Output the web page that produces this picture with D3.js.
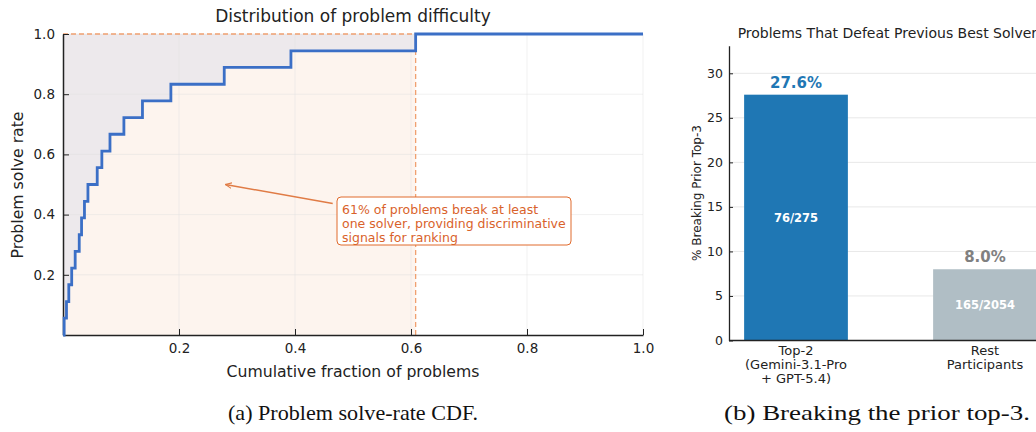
<!DOCTYPE html>
<html>
<head>
<meta charset="utf-8">
<script src="https://cdn.jsdelivr.net/npm/d3@7"></script>
<style>
  body { margin: 0; background: #fff; }
  svg { display: block; font-family: "DejaVu Sans", sans-serif; }
</style>
</head>
<body>
<svg id="chart"></svg>
<script>
// left panel: sorted solve rates (step curve)
var cumFraction = [0, 0.002, 0.006, 0.010, 0.015, 0.021, 0.028, 0.032, 0.037, 0.043,
  0.059, 0.067, 0.081, 0.105, 0.137, 0.186, 0.278, 0.393, 0.608, 1.0];
var solveRate = [0, 0.056, 0.111, 0.167, 0.222, 0.278, 0.333, 0.389, 0.444, 0.5,
  0.556, 0.611, 0.667, 0.722, 0.778, 0.833, 0.889, 0.944, 1.0, 1.0];
var breakFraction = 0.608;
var cdfTicks = [0.2, 0.4, 0.6, 0.8, 1.0];
var noteLines = ['61% of problems break at least', 'one solver, providing discriminative', 'signals for ranking'];

// right panel: bars
var groups = ['Top-2', 'Rest'];
var groupLabels = [['Top-2', '(Gemini-3.1-Pro', '+ GPT-5.4)'], ['Rest', 'Participants']];
var breakPct = [27.6, 8.0];
var breakCounts = ['76/275', '165/2054'];
var barColors = ['#1f77b4', '#b0bec5'];
var pctColors = ['#1f77b4', '#808080'];
var pctTicks = [0, 5, 10, 15, 20, 25, 30];

function drawChart() {
  var svg = d3.select('#chart')
    .attr('width', 1036)
    .attr('height', 432);

  // ---------- panel (a) ----------
  var x = d3.scaleLinear().domain([0, 1]).range([63, 643]);
  var y = d3.scaleLinear().domain([0, 1]).range([335, 34]);
  var pts = cumFraction.map((d, i) => [d, solveRate[i]]);
  var a = svg.append('g');

  // shaded band up to the break point
  a.append('rect')
    .attr('x', x(0)).attr('y', y(1))
    .attr('width', x(breakFraction) - x(0))
    .attr('height', y(0) - y(1))
    .attr('fill', '#fdf4ee');

  // region above the curve
  var above = pts.filter(d => d[0] <= breakFraction);
  a.append('path')
    .datum(above)
    .attr('d', d3.area().curve(d3.curveStepAfter)
      .x(d => x(d[0])).y0(y(1)).y1(d => y(d[1])))
    .attr('fill', '#ede9ec');

  // grid
  a.selectAll('line.gx').data(cdfTicks).enter().append('line')
    .attr('x1', d => x(d)).attr('x2', d => x(d))
    .attr('y1', y(0)).attr('y2', y(1))
    .attr('stroke', '#e0e0e0').attr('stroke-opacity', 0.6).attr('stroke-width', 0.8);
  a.selectAll('line.gy').data(cdfTicks).enter().append('line')
    .attr('x1', x(0)).attr('x2', x(1))
    .attr('y1', d => y(d)).attr('y2', d => y(d))
    .attr('stroke', '#e0e0e0').attr('stroke-opacity', 0.6).attr('stroke-width', 0.8);

  // dashed guides
  a.append('line')
    .attr('x1', x(breakFraction)).attr('x2', x(breakFraction))
    .attr('y1', y(0)).attr('y2', y(1))
    .attr('stroke', '#f0a070').attr('stroke-width', 1.3).attr('stroke-dasharray', '5,3');
  a.append('line')
    .attr('x1', x(0)).attr('x2', x(breakFraction))
    .attr('y1', y(1)).attr('y2', y(1))
    .attr('stroke', '#f0a070').attr('stroke-width', 1.3).attr('stroke-dasharray', '5,3');

  // axes
  var xAxis = a.append('g')
    .attr('transform', `translate(0,${y(0)})`)
    .call(d3.axisBottom(x).tickValues(cdfTicks).tickFormat(d3.format('.1f')).tickSizeInner(-6).tickSizeOuter(0).tickPadding(8));
  var yAxis = a.append('g')
    .attr('transform', `translate(${x(0)},0)`)
    .call(d3.axisLeft(y).tickValues(cdfTicks).tickFormat(d3.format('.1f')).tickSizeInner(-6).tickSizeOuter(0).tickPadding(8));
  [xAxis, yAxis].forEach(g => {
    g.select('.domain').attr('stroke', '#222').attr('stroke-width', 1.5);
    g.selectAll('.tick line').attr('stroke', '#222');
    g.selectAll('.tick text').attr('font-size', 13.5).attr('fill', '#222')
      .attr('font-family', '"DejaVu Sans", sans-serif');
  });

  // step curve
  a.append('path')
    .datum(pts)
    .attr('d', d3.line().curve(d3.curveStepAfter).x(d => x(d[0])).y(d => y(d[1])))
    .attr('fill', 'none')
    .attr('stroke', '#3b6fc6')
    .attr('stroke-width', 2.8);

  // annotation
  svg.append('defs').append('marker')
    .attr('id', 'arr').attr('viewBox', '0 0 10 10')
    .attr('refX', 9).attr('refY', 5)
    .attr('markerWidth', 7).attr('markerHeight', 7)
    .attr('markerUnits', 'userSpaceOnUse')
    .attr('orient', 'auto')
    .append('path').attr('d', 'M0,1 L9,5 L0,9').attr('fill', 'none')
    .attr('stroke', '#e07b45').attr('stroke-width', 1.5);
  a.append('line')
    .attr('x1', x(0.465)).attr('y1', y(0.437))
    .attr('x2', x(0.28)).attr('y2', y(0.5))
    .attr('stroke', '#e07b45').attr('stroke-width', 1.5)
    .attr('marker-end', 'url(#arr)');
  a.append('rect')
    .attr('x', 337).attr('y', 197).attr('width', 234).attr('height', 48)
    .attr('rx', 4)
    .attr('fill', '#fff').attr('stroke', '#e06a2c').attr('stroke-width', 1);
  a.append('text')
    .attr('x', 342).attr('y', 210)
    .attr('font-size', 12.5).attr('fill', '#d9622b')
    .selectAll('tspan').data(noteLines).enter().append('tspan')
    .attr('x', 342).attr('dy', (d, i) => i ? 14 : 4)
    .text(d => d);

  a.append('text').attr('x', 353).attr('y', 22).attr('text-anchor', 'middle')
    .attr('font-size', 17).attr('fill', '#222').text('Distribution of problem difficulty');
  a.append('text').attr('x', 353).attr('y', 377).attr('text-anchor', 'middle')
    .attr('font-size', 15.7).attr('fill', '#222').text('Cumulative fraction of problems');
  a.append('text').attr('transform', 'translate(23,185) rotate(-90)').attr('text-anchor', 'middle')
    .attr('font-size', 15.7).attr('fill', '#222').text('Problem solve rate');

  // ---------- panel (b) ----------
  var xb = d3.scaleBand().domain(groups).range([729, 1052]).paddingInner(0.451).paddingOuter(0.08);
  var yb = d3.scaleLinear().domain([0, 33.1]).range([340.5, 45.7]);
  var b = svg.append('g');

  b.selectAll('line.grid').data(pctTicks.slice(1)).enter().append('line')
    .attr('x1', 729).attr('x2', 1036)
    .attr('y1', d => yb(d)).attr('y2', d => yb(d))
    .attr('stroke', '#e8e8e8').attr('stroke-width', 1);

  b.selectAll('rect.bar').data(groups).enter().append('rect')
    .attr('x', d => xb(d)).attr('y', (d, i) => yb(breakPct[i]))
    .attr('width', xb.bandwidth())
    .attr('height', (d, i) => yb(0) - yb(breakPct[i]))
    .attr('fill', (d, i) => barColors[i]);

  var yAxisB = b.append('g')
    .attr('transform', `translate(729,0)`)
    .call(d3.axisLeft(yb).tickValues(pctTicks).tickSizeInner(-4).tickSizeOuter(0).tickPadding(6));
  yAxisB.select('.domain').attr('stroke', '#222').attr('stroke-width', 1.3);
  yAxisB.selectAll('.tick line').attr('stroke', '#222');
  yAxisB.selectAll('.tick text').attr('font-size', 12.5).attr('fill', '#222')
    .attr('font-family', '"DejaVu Sans", sans-serif');
  b.append('line').attr('x1', 729).attr('x2', 1036).attr('y1', yb(0)).attr('y2', yb(0))
    .attr('stroke', '#222').attr('stroke-width', 1.3);

  b.selectAll('text.pct').data(groups).enter().append('text')
    .attr('x', d => xb(d) + xb.bandwidth() / 2)
    .attr('y', (d, i) => yb(breakPct[i]) - 7)
    .attr('text-anchor', 'middle').attr('font-weight', 'bold').attr('font-size', 15)
    .attr('fill', (d, i) => pctColors[i])
    .text((d, i) => breakPct[i].toFixed(1) + '%');
  b.selectAll('text.cnt').data(groups).enter().append('text')
    .attr('x', d => xb(d) + xb.bandwidth() / 2)
    .attr('y', (d, i) => (yb(breakPct[i]) + yb(0)) / 2 + 4)
    .attr('text-anchor', 'middle').attr('font-weight', 'bold').attr('font-size', 11.5)
    .attr('fill', '#fff')
    .text((d, i) => breakCounts[i]);
  b.selectAll('text.cat').data(groups).enter().append('text')
    .attr('y', 355)
    .attr('text-anchor', 'middle').attr('font-size', 13).attr('fill', '#222')
    .each(function (d, i) {
      d3.select(this).selectAll('tspan').data(groupLabels[i]).enter().append('tspan')
        .attr('x', xb(d) + xb.bandwidth() / 2)
        .attr('dy', (t, j) => j ? 14 : 0)
        .text(t => t);
    });

  b.append('text').attr('x', 891).attr('y', 38).attr('text-anchor', 'middle')
    .attr('font-size', 14).attr('fill', '#222').text('Problems That Defeat Previous Best Solvers');
  b.append('text').attr('transform', 'translate(701,193) rotate(-90)').attr('text-anchor', 'middle')
    .attr('font-size', 12).attr('fill', '#222').text('% Breaking Prior Top-3');

  // captions
  svg.append('text').attr('x', 353).attr('y', 420).attr('text-anchor', 'middle')
    .attr('font-family', '"Liberation Serif", serif').attr('font-size', 22).attr('fill', '#111')
    .attr('textLength', 250).attr('lengthAdjust', 'spacingAndGlyphs')
    .text('(a) Problem solve-rate CDF.');
  svg.append('text').attr('x', 877).attr('y', 420).attr('text-anchor', 'middle')
    .attr('font-family', '"Liberation Serif", serif').attr('font-size', 22).attr('fill', '#111')
    .attr('textLength', 306).attr('lengthAdjust', 'spacingAndGlyphs')
    .text('(b) Breaking the prior top-3.');
}

drawChart();
</script>
</body>
</html>
